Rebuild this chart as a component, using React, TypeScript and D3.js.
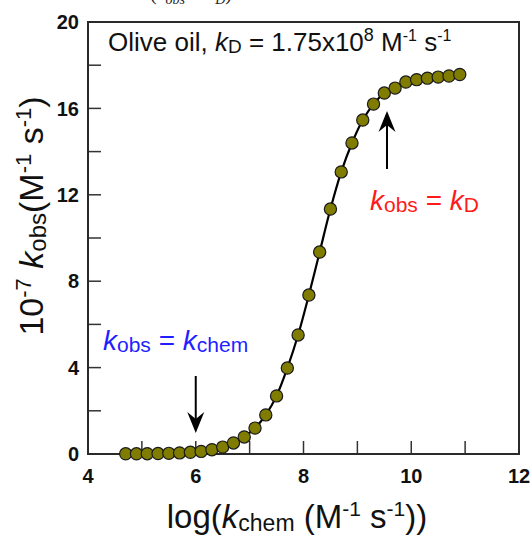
import React from "react";
import * as d3 from "d3";

const logKchem = [4.7, 4.9, 5.1, 5.3, 5.5, 5.7, 5.9, 6.1, 6.3, 6.5, 6.7, 6.9, 7.1, 7.3, 7.5, 7.7, 7.9, 8.1, 8.3, 8.5, 8.7, 8.9, 9.1, 9.3, 9.5, 9.7, 9.9, 10.1, 10.3, 10.5, 10.7, 10.9];
const kobs = [0.01, 0.01, 0.015, 0.02, 0.03, 0.05, 0.08, 0.12, 0.2, 0.32, 0.51, 0.79, 1.2, 1.81, 2.69, 3.98, 5.51, 7.36, 9.35, 11.34, 13.06, 14.4, 15.46, 16.2, 16.71, 16.94, 17.22, 17.33, 17.4, 17.45, 17.5, 17.57];
const yTicks = [0, 2, 4, 6, 8, 10, 12, 14, 16, 18, 20];
const yTickLabels = [0, 4, 8, 12, 16, 20];
const xTicks = [4, 5, 6, 7, 8, 9, 10, 11, 12];
const xTickLabels = [4, 6, 8, 10, 12];

const W = 531;
const H = 535;
const FONT = "'Liberation Sans', Arial, sans-serif";

export default function App() {
  const x = d3.scaleLinear().domain([4, 12]).range([88, 519]);
  const y = d3.scaleLinear().domain([0, 20]).range([454, 22]);
  const pts = logKchem.map((v, i) => [v, kobs[i]] as [number, number]);
  const line = d3
    .line<[number, number]>()
    .x((d) => x(d[0]))
    .y((d) => y(d[1]))
    .curve(d3.curveCatmullRom);

  const arrowHead = (tx: number, ty: number, dir: number) => {
    const len = 21;
    const half = 8.5;
    const notch = 7;
    return `M${tx},${ty} L${tx - half},${ty - dir * len} L${tx},${ty - dir * (len - notch)} L${tx + half},${ty - dir * len} Z`;
  };

  const downX = x(6);
  const upX = x(9.55);

  return (
    <svg
      width={W}
      height={H}
      style={{ position: "absolute", left: 0, top: 0, background: "#fff" }}
      fontFamily={FONT}
    >
      {/* clipped caption remnant at the very top */}
      <text x={232} y={0} textAnchor="end" fontFamily="'Liberation Serif', serif" fontSize={20} fill="#222">
        diffusion-controlled (<tspan fontStyle="italic">k</tspan>
        <tspan fontSize={14} dy={4} fontStyle="italic">obs</tspan>
        <tspan dy={-4}> = </tspan>
        <tspan fontStyle="italic">k</tspan>
        <tspan fontSize={14} dy={4} fontStyle="italic">D</tspan>
        <tspan dy={-4}>)</tspan>
      </text>

      {/* ticks */}
      {yTicks.map((t) => (
        <line key={"yt" + t} x1={x(4)} x2={x(4) + 13} y1={y(t)} y2={y(t)} stroke="#333" strokeWidth={1.5} />
      ))}
      {xTicks.map((t) => (
        <line key={"xt" + t} x1={x(t)} x2={x(t)} y1={y(0)} y2={y(0) - 13} stroke="#333" strokeWidth={1.5} />
      ))}

      {/* frame */}
      <rect x={x(4)} y={y(20)} width={x(12) - x(4)} height={y(0) - y(20)} fill="none" stroke="#2a2a2a" strokeWidth={2} />

      {/* tick labels */}
      {yTickLabels.map((t) => (
        <text key={"yl" + t} x={79} y={y(t)} dy="0.36em" textAnchor="end" fontWeight="bold" fontSize={20} fill="#111">
          {t}
        </text>
      ))}
      {xTickLabels.map((t) => (
        <text key={"xl" + t} x={x(t)} y={483} textAnchor="middle" fontWeight="bold" fontSize={20} fill="#111">
          {t}
        </text>
      ))}

      {/* axis titles */}
      <text x={297} y={528} textAnchor="middle" fontSize={33} fill="#111">
        log(<tspan fontStyle="italic">k</tspan>
        <tspan fontSize={23} dy={3}>chem</tspan>
        <tspan dy={-3}> (M</tspan>
        <tspan fontSize={21} dy={-12}>-1</tspan>
        <tspan dy={12}> s</tspan>
        <tspan fontSize={21} dy={-12}>-1</tspan>
        <tspan dy={12}>))</tspan>
      </text>
      <text transform={`translate(43,216) rotate(-90)`} textAnchor="middle" fontSize={34} fill="#111">
        10<tspan fontSize={22} dy={-12}>-7</tspan>
        <tspan dy={12}> </tspan>
        <tspan fontStyle="italic">k</tspan>
        <tspan fontSize={24} dy={3}>obs</tspan>
        <tspan dy={-3}>(M</tspan>
        <tspan fontSize={22} dy={-12}>-1</tspan>
        <tspan dy={12}> s</tspan>
        <tspan fontSize={22} dy={-12}>-1</tspan>
        <tspan dy={12}>)</tspan>
      </text>

      {/* in-plot title */}
      <text x={108} y={51} fontSize={26} fill="#111">
        Olive oil, <tspan fontStyle="italic">k</tspan>
        <tspan fontSize={19} dy={2}>D</tspan>
        <tspan dy={-2}> = 1.75x10</tspan>
        <tspan fontSize={18} dy={-10}>8</tspan>
        <tspan dy={10}> M</tspan>
        <tspan fontSize={16} dy={-10}>-1</tspan>
        <tspan dy={10}> s</tspan>
        <tspan fontSize={16} dy={-10}>-1</tspan>
      </text>

      {/* curve */}
      <path d={line(pts) || ""} fill="none" stroke="#000" strokeWidth={2.2} />

      {/* points */}
      {pts.map((d, i) => (
        <circle key={i} cx={x(d[0])} cy={y(d[1])} r={6.1} fill="#807c00" stroke="#1a1a1a" strokeWidth={1.2} />
      ))}

      {/* arrows */}
      <line x1={downX} x2={downX} y1={376} y2={422} stroke="#000" strokeWidth={2} />
      <path d={arrowHead(downX, 433, 1)} fill="#000" />
      <line x1={upX} x2={upX} y1={169} y2={122} stroke="#000" strokeWidth={2} />
      <path d={arrowHead(upX, 111, -1)} fill="#000" />

      {/* annotations */}
      <text x={103} y={350} fontSize={28} fill="#1f1fff">
        <tspan fontStyle="italic">k</tspan>
        <tspan fontSize={21} dy={2}>obs</tspan>
        <tspan dy={-2}> = </tspan>
        <tspan fontStyle="italic">k</tspan>
        <tspan fontSize={21} dy={2}>chem</tspan>
      </text>
      <text x={370} y={210} fontSize={28} fill="#ff1a1a">
        <tspan fontStyle="italic">k</tspan>
        <tspan fontSize={21} dy={2}>obs</tspan>
        <tspan dy={-2}> = </tspan>
        <tspan fontStyle="italic">k</tspan>
        <tspan fontSize={21} dy={2}>D</tspan>
      </text>
    </svg>
  );
}
